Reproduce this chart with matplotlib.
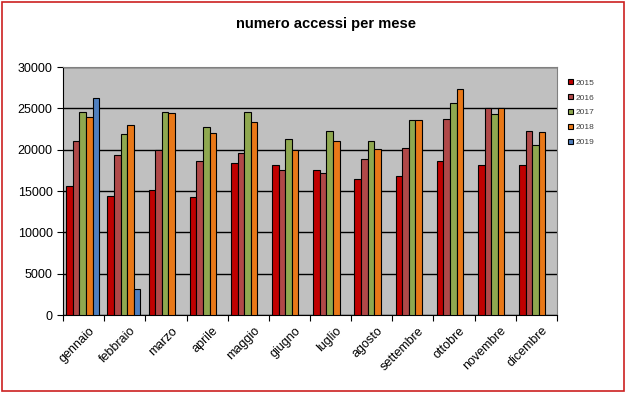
# -*- coding: utf-8 -*-
# numero accessi per mese - grouped bars 2015-2019
import numpy as np
import matplotlib.pyplot as plt
from matplotlib.patches import Rectangle

plt.rcParams['font.family'] = ['Liberation Sans', 'DejaVu Sans']

# Data
mesi = ['gennaio', 'febbraio', 'marzo', 'aprile', 'maggio', 'giugno',
        'luglio', 'agosto', 'settembre', 'ottobre', 'novembre', 'dicembre']
anni = ['2015', '2016', '2017', '2018', '2019']
acc_2015 = [15600, 14400, 15100, 14300, 18400, 18200, 17500, 16400, 16800, 18600, 18100, 18200]
acc_2016 = [21100, 19400, 19900, 18600, 19600, 17600, 17200, 18900, 20200, 23700, 25100, 22300]
acc_2017 = [24600, 21900, 24500, 22800, 24600, 21300, 22200, 21000, 23600, 25600, 24300, 20600]
acc_2018 = [24000, 23000, 24400, 22000, 23300, 20000, 21000, 20100, 23600, 27300, 25000, 22100]
acc_2019 = [26300, 3100]
colori = ['#C00000', '#B04848', '#8FA850', '#E87818', '#4F7FBF']

serie = [acc_2015, acc_2016, acc_2017, acc_2018, acc_2019]

fig = plt.figure(figsize=(6.26, 3.93), dpi=100)
ax = fig.add_axes([63/626, 78/393, 494/626, 248/393])
ax.set_facecolor('#C0C0C0')

x = np.arange(len(mesi))
w = 0.16
for i, (vals, c, a) in enumerate(zip(serie, colori, anni)):
    xs = x[:len(vals)] + (i - 2) * w - 0.02
    ax.bar(xs, vals, width=w, color=c, edgecolor='black', linewidth=0.8,
           label=a, zorder=3)

ax.set_xlim(-0.5, len(mesi) - 0.5)
ax.set_ylim(0, 30000)
ax.set_yticks(range(0, 30001, 5000))
ax.yaxis.grid(True, color='black', linewidth=1, zorder=1)
ax.set_axisbelow(True)
ax.tick_params(axis='y', labelsize=9, length=4)

# ticks between categories, labels at centers
ax.set_xticks(np.arange(-0.5, len(mesi), 1))
ax.set_xticklabels([])
ax.set_xticks(x + 0.12, minor=True)
ax.set_xticklabels(mesi, minor=True, rotation=45, ha='right',
                   rotation_mode='anchor', fontsize=9)
ax.tick_params(axis='x', which='minor', length=0, pad=7)
ax.tick_params(axis='x', which='major', length=4)

for s in ['top', 'right']:
    ax.spines[s].set_color('#808080')
ax.spines['left'].set_color('black')
ax.spines['bottom'].set_color('black')

fig.text(0.52, 0.94, 'numero accessi per mese', ha='center', va='center',
         fontsize=10.5, fontweight='bold')

leg = ax.legend(loc='upper left', bbox_to_anchor=(1.015, 0.965), frameon=False,
                fontsize=6, handlelength=0.6, handleheight=0.6,
                labelspacing=0.88, handletextpad=0.3, borderaxespad=0)
for t in leg.get_texts():
    t.set_color('#404040')

fig.patches.append(Rectangle((0.003, 0.004), 0.994, 0.992, transform=fig.transFigure,
                             fill=False, edgecolor='#CC2020', linewidth=1.2))

fig.savefig('out.png', dpi=100)
